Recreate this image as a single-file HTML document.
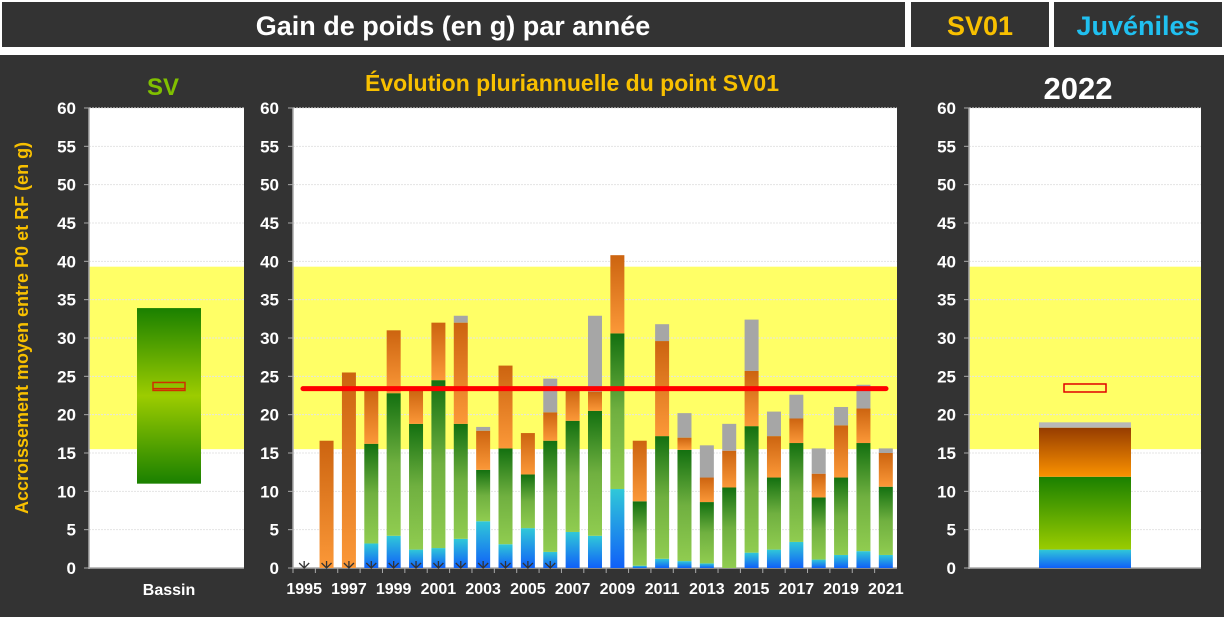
<!DOCTYPE html>
<html><head><meta charset="utf-8"><style>
html,body{margin:0;padding:0;background:#fff;}
svg{display:block;font-family:"Liberation Sans",Arial,sans-serif;}
</style></head><body>
<svg id="s" width="1224" height="617" viewBox="0 0 1224 617" xmlns="http://www.w3.org/2000/svg">
<defs>
<linearGradient id="gb" x1="0" y1="1" x2="0" y2="0"><stop offset="0" stop-color="#1060f8"/><stop offset="1" stop-color="#30c8d8"/></linearGradient>
<linearGradient id="gg" x1="0" y1="1" x2="0" y2="0"><stop offset="0" stop-color="#90cc50"/><stop offset="0.5" stop-color="#70b040"/><stop offset="1" stop-color="#137010"/></linearGradient>
<linearGradient id="go" x1="0" y1="1" x2="0" y2="0"><stop offset="0" stop-color="#fb9838"/><stop offset="1" stop-color="#cc6410"/></linearGradient>
<linearGradient id="gsv" x1="0" y1="0" x2="0" y2="1"><stop offset="0" stop-color="#1a8000"/><stop offset="0.5" stop-color="#9ccc00"/><stop offset="1" stop-color="#1a8000"/></linearGradient>
<linearGradient id="g2g" x1="0" y1="1" x2="0" y2="0"><stop offset="0" stop-color="#9acc00"/><stop offset="1" stop-color="#1a8000"/></linearGradient>
<linearGradient id="g2o" x1="0" y1="1" x2="0" y2="0"><stop offset="0" stop-color="#fb9200"/><stop offset="1" stop-color="#963c00"/></linearGradient>
</defs>
<rect width="1224" height="617" fill="#fff"/>
<rect x="2" y="2" width="903" height="45" fill="#333"/>
<rect x="911" y="2" width="138" height="45" fill="#333"/>
<rect x="1054" y="2" width="168" height="45" fill="#333"/>
<text x="453" y="35" fill="#fff" font-size="27" font-weight="bold" text-anchor="middle">Gain de poids (en g) par année</text>
<text x="980" y="35" fill="#f8c000" font-size="27" font-weight="bold" text-anchor="middle">SV01</text>
<text x="1138" y="35" fill="#20c0f0" font-size="27" font-weight="bold" text-anchor="middle">Juvéniles</text>
<rect x="0" y="55" width="1224" height="562" fill="#333"/>
<text x="163" y="95" fill="#80c000" font-size="24" font-weight="bold" text-anchor="middle">SV</text>
<text x="572" y="91" fill="#f8c000" font-size="23" font-weight="bold" text-anchor="middle">Évolution pluriannuelle du point SV01</text>
<text x="1078" y="99" fill="#fff" font-size="31" font-weight="bold" text-anchor="middle">2022</text>
<text transform="translate(28,328) rotate(-90)" fill="#f8c000" font-size="18" font-weight="bold" text-anchor="middle">Accroissement  moyen entre P0 et RF (en g)</text>
<g id="g"></g>
</svg>
<script>
var g=document.getElementById('g'),h='';
function Y(v){return 568-v*7.667;}
function axis(x0,x1,lx){
 h+='<rect x="'+x0+'" y="108" width="'+(x1-x0)+'" height="460" fill="#fff"/>';
 h+='<rect x="'+x0+'" y="'+Y(39.3)+'" width="'+(x1-x0)+'" height="'+(Y(15.5)-Y(39.3))+'" fill="#ffff66"/>';
 for(var v=0;v<=60;v+=5){var y=Y(v);
  if(v>0)h+='<line x1="'+x0+'" x2="'+x1+'" y1="'+y+'" y2="'+y+'" stroke="#e4e4e4" stroke-width="1" stroke-dasharray="2,1"/>';
  h+='<line x1="'+(x0-5)+'" x2="'+x0+'" y1="'+y+'" y2="'+y+'" stroke="#aaa"/>';
  h+='<text x="'+lx+'" y="'+(y+6)+'" fill="#fff" font-size="17" font-weight="bold" text-anchor="end">'+v+'</text>';}
 h+='<line x1="'+x0+'" x2="'+x0+'" y1="108" y2="569" stroke="#aaa" stroke-width="1.5"/>';
 h+='<line x1="'+x0+'" x2="'+x1+'" y1="568" y2="568" stroke="#aaa" stroke-width="1.5"/>';
}
axis(89,244,76);axis(293,897,279);axis(969,1201,956);
h+='<rect x="137" y="'+Y(33.9)+'" width="64" height="'+(Y(11)-Y(33.9))+'" fill="url(#gsv)"/>';
h+='<rect x="153" y="'+Y(24.2)+'" width="32" height="8" fill="none" stroke="#d03000" stroke-width="1.5"/>';
h+='<line x1="153" x2="185" y1="'+Y(23.4)+'" y2="'+Y(23.4)+'" stroke="#d03000" stroke-width="1.5"/>';
h+='<text x="169" y="595" fill="#fff" font-size="16" font-weight="bold" text-anchor="middle">Bassin</text>';
var d=[[0,0,0,0],[0,0,16.6,0],[0,0,25.5,0],[3.2,16.2,23.3,0],[4.2,22.8,31,0],[2.4,18.8,23.2,0],[2.6,24.5,32,0],[3.8,18.8,32,32.9],[6.1,12.8,17.9,18.4],[3.1,15.6,26.4,0],[5.2,12.2,17.6,0],[2.1,16.6,20.3,24.7],[4.7,19.2,23.3,0],[4.2,20.5,23,32.9],[10.3,30.6,40.8,0],[0.3,8.7,16.6,0],[1.2,17.2,29.6,31.8],[0.9,15.4,17,20.2],[0.6,8.6,11.8,16],[0,10.5,15.3,18.8],[2,18.5,25.7,32.4],[2.4,11.8,17.2,20.4],[3.4,16.3,19.5,22.6],[1.1,9.2,12.3,15.6],[1.7,11.8,18.6,21],[2.2,16.3,20.8,23.9],[1.7,10.6,15,15.6]];
var w=(897-293)/27;
for(var i=0;i<27;i++){var c=293+(i+0.5)*w,x=c-7,a=d[i],p=0;
 var f=['url(#gb)','url(#gg)','url(#go)','#a6a6a6'];
 for(var k=0;k<4;k++){if(a[k]>p){h+='<rect x="'+x+'" y="'+Y(a[k])+'" width="14" height="'+(Y(p)-Y(a[k]))+'" fill="'+f[k]+'"/>';p=a[k];}}
 if(i<12)h+='<path d="M'+(c-5)+' 563 L'+c+' 568 L'+(c+5)+' 563 M'+c+' 568 V561" stroke="#333" stroke-width="1.3" fill="none"/>';
 h+='<line x1="'+(293+i*w)+'" x2="'+(293+i*w)+'" y1="568" y2="573" stroke="#aaa"/>';
 if(i%2==0)h+='<text x="'+c+'" y="594" fill="#fff" font-size="16" font-weight="bold" text-anchor="middle">'+(1995+i)+'</text>';}
h+='<line x1="303" x2="886" y1="'+Y(23.4)+'" y2="'+Y(23.4)+'" stroke="#ff0000" stroke-width="5" stroke-linecap="round"/>';
var r=[[0,2.4,'url(#gb)'],[2.4,11.9,'url(#g2g)'],[11.9,18.3,'url(#g2o)'],[18.3,19,'#b8b8b8']];
r.forEach(function(s){h+='<rect x="1039" y="'+Y(s[1])+'" width="92" height="'+(Y(s[0])-Y(s[1]))+'" fill="'+s[2]+'"/>';});
h+='<rect x="1064" y="'+Y(24)+'" width="42" height="8" fill="none" stroke="#e00000" stroke-width="1.5"/>';
g.innerHTML=h;
</script>
</body></html>
